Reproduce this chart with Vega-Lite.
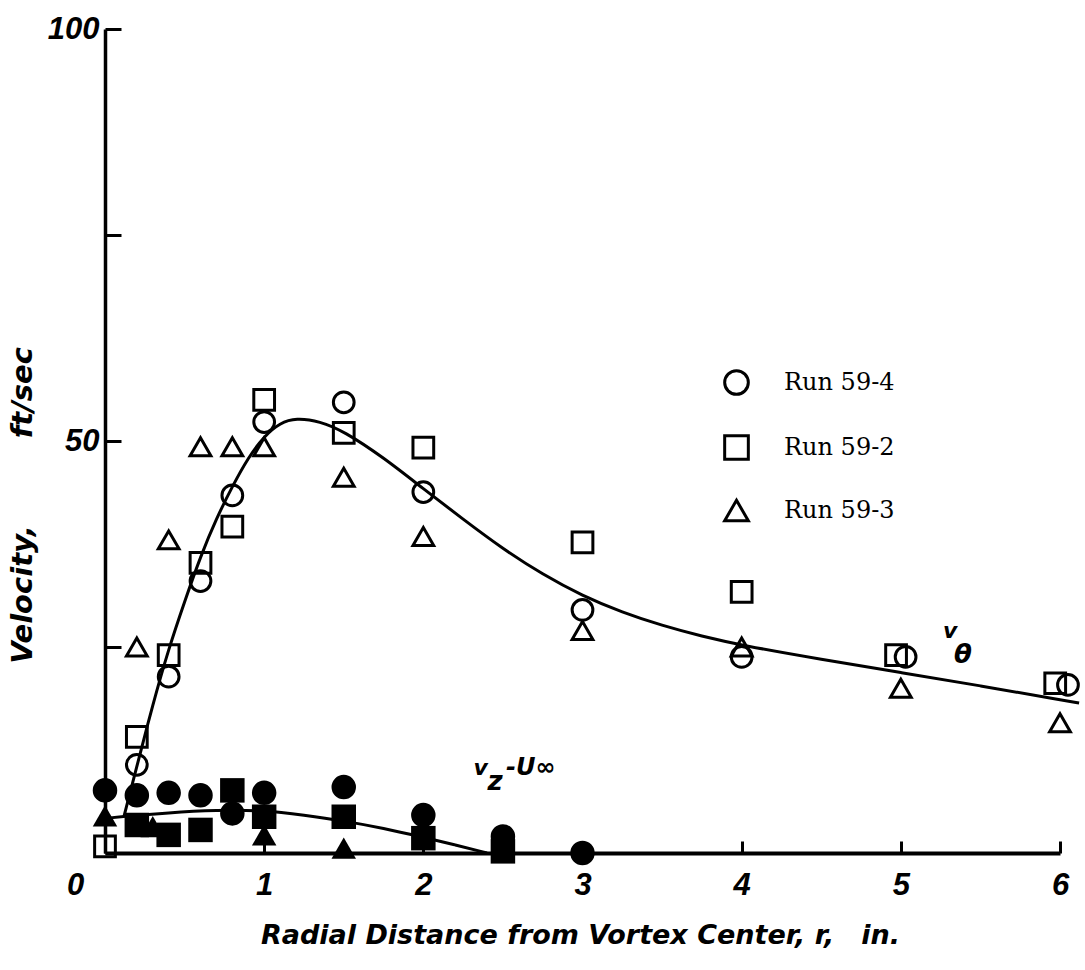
{
  "$schema": "https://vega.github.io/schema/vega-lite/v6.json",
  "width": 955,
  "height": 824,
  "autosize": {"type": "none"},
  "padding": {"left": 105, "top": 29, "right": 25, "bottom": 117},
  "background": "white",
  "config": {"view": {"stroke": null}, "axis": {"grid": false}},
  "datasets": {
    "vtheta": [
      {"r": 0.2, "v": 10.7, "run": "Run 59-4"},
      {"r": 0.4, "v": 21.4, "run": "Run 59-4"},
      {"r": 0.6, "v": 33.0, "run": "Run 59-4"},
      {"r": 0.8, "v": 43.4, "run": "Run 59-4"},
      {"r": 1.0, "v": 52.3, "run": "Run 59-4"},
      {"r": 1.5, "v": 54.7, "run": "Run 59-4"},
      {"r": 2.0, "v": 43.8, "run": "Run 59-4"},
      {"r": 3.0, "v": 29.5, "run": "Run 59-4"},
      {"r": 4.0, "v": 23.8, "run": "Run 59-4"},
      {"r": 5.03, "v": 23.8, "run": "Run 59-4"},
      {"r": 6.05, "v": 20.4, "run": "Run 59-4"},
      {"r": 0.0, "v": 0.8, "run": "Run 59-2"},
      {"r": 0.2, "v": 14.1, "run": "Run 59-2"},
      {"r": 0.4, "v": 24.0, "run": "Run 59-2"},
      {"r": 0.6, "v": 35.2, "run": "Run 59-2"},
      {"r": 0.8, "v": 39.6, "run": "Run 59-2"},
      {"r": 1.0, "v": 55.0, "run": "Run 59-2"},
      {"r": 1.5, "v": 51.0, "run": "Run 59-2"},
      {"r": 2.0, "v": 49.2, "run": "Run 59-2"},
      {"r": 3.0, "v": 37.7, "run": "Run 59-2"},
      {"r": 4.0, "v": 31.7, "run": "Run 59-2"},
      {"r": 4.97, "v": 24.0, "run": "Run 59-2"},
      {"r": 5.97, "v": 20.6, "run": "Run 59-2"},
      {"r": 0.2, "v": 25.0, "run": "Run 59-3"},
      {"r": 0.4, "v": 38.0, "run": "Run 59-3"},
      {"r": 0.6, "v": 49.3, "run": "Run 59-3"},
      {"r": 0.8, "v": 49.3, "run": "Run 59-3"},
      {"r": 1.0, "v": 49.3, "run": "Run 59-3"},
      {"r": 1.5, "v": 45.6, "run": "Run 59-3"},
      {"r": 2.0, "v": 38.4, "run": "Run 59-3"},
      {"r": 3.0, "v": 27.0, "run": "Run 59-3"},
      {"r": 4.0, "v": 25.0, "run": "Run 59-3"},
      {"r": 5.0, "v": 20.0, "run": "Run 59-3"},
      {"r": 6.0, "v": 15.8, "run": "Run 59-3"}
    ],
    "vz": [
      {"r": 0.0, "v": 7.6, "run": "Run 59-4"},
      {"r": 0.2, "v": 7.0, "run": "Run 59-4"},
      {"r": 0.4, "v": 7.3, "run": "Run 59-4"},
      {"r": 0.6, "v": 7.0, "run": "Run 59-4"},
      {"r": 0.8, "v": 4.8, "run": "Run 59-4"},
      {"r": 1.0, "v": 7.3, "run": "Run 59-4"},
      {"r": 1.5, "v": 8.0, "run": "Run 59-4"},
      {"r": 2.0, "v": 4.6, "run": "Run 59-4"},
      {"r": 2.5, "v": 2.0, "run": "Run 59-4"},
      {"r": 3.0, "v": 0.0, "run": "Run 59-4"},
      {"r": 0.2, "v": 3.4, "run": "Run 59-2"},
      {"r": 0.4, "v": 2.2, "run": "Run 59-2"},
      {"r": 0.6, "v": 2.8, "run": "Run 59-2"},
      {"r": 0.8, "v": 7.6, "run": "Run 59-2"},
      {"r": 1.0, "v": 4.4, "run": "Run 59-2"},
      {"r": 1.5, "v": 4.4, "run": "Run 59-2"},
      {"r": 2.0, "v": 1.8, "run": "Run 59-2"},
      {"r": 2.5, "v": 0.2, "run": "Run 59-2"},
      {"r": 0.0, "v": 4.5, "run": "Run 59-3"},
      {"r": 0.3, "v": 3.2, "run": "Run 59-3"},
      {"r": 1.0, "v": 2.2, "run": "Run 59-3"},
      {"r": 1.5, "v": 0.6, "run": "Run 59-3"}
    ],
    "vtheta_fit": [
      {"r": 0.12, "v": 4.5},
      {"r": 0.2, "v": 10.5},
      {"r": 0.3, "v": 18.0},
      {"r": 0.4, "v": 24.8},
      {"r": 0.5, "v": 30.5},
      {"r": 0.6, "v": 36.0},
      {"r": 0.7, "v": 40.6},
      {"r": 0.8, "v": 44.5},
      {"r": 0.9, "v": 48.0},
      {"r": 1.0, "v": 50.6},
      {"r": 1.1, "v": 52.2},
      {"r": 1.2, "v": 52.8},
      {"r": 1.35, "v": 52.4},
      {"r": 1.5, "v": 51.2},
      {"r": 1.75, "v": 48.0},
      {"r": 2.0, "v": 44.2},
      {"r": 2.25, "v": 40.5},
      {"r": 2.5, "v": 36.9},
      {"r": 2.75, "v": 33.8},
      {"r": 3.0, "v": 31.2},
      {"r": 3.25, "v": 29.2},
      {"r": 3.5, "v": 27.6},
      {"r": 3.75, "v": 26.3},
      {"r": 4.0, "v": 25.2},
      {"r": 4.5, "v": 23.5},
      {"r": 5.0, "v": 21.9},
      {"r": 5.5, "v": 20.3},
      {"r": 6.0, "v": 18.6},
      {"r": 6.12, "v": 18.2}
    ],
    "vz_fit": [
      {"r": 0.0, "v": 4.2},
      {"r": 0.1, "v": 4.4},
      {"r": 0.4, "v": 4.9},
      {"r": 0.7, "v": 5.2},
      {"r": 1.0, "v": 5.2},
      {"r": 1.25, "v": 4.6},
      {"r": 1.5, "v": 3.9},
      {"r": 1.75, "v": 3.0},
      {"r": 2.0, "v": 1.9},
      {"r": 2.2, "v": 1.0},
      {"r": 2.4, "v": 0.0}
    ],
    "notes": [
      {"r": 2.36, "v": 10.3, "t": "v"},
      {"r": 5.31, "v": 27.0, "t": "v"}
    ],
    "notes_left": [
      {"r": 2.52, "v": 10.3, "t": "-U∞"}
    ],
    "subs": [
      {"r": 2.45, "v": 8.6, "t": "z"},
      {"r": 5.39, "v": 24.0, "t": "θ"}
    ]
  },
  "layer": [
    {
      "data": {"name": "vtheta_fit"},
      "mark": {"type": "line", "interpolate": "basis", "color": "black", "strokeWidth": 3},
      "encoding": {
        "x": {
          "field": "r", "type": "quantitative",
          "scale": {"domain": [0, 6], "nice": false, "zero": false},
          "axis": {
            "values": [0, 1, 2, 3, 4, 5, 6],
            "format": "d",
            "title": "Radial Distance from Vortex Center, r,\u2003in.",
            "titleFont": "DejaVu Sans", "titleFontSize": 27, "titleFontStyle": "italic", "titleFontWeight": "bold", "titleColor": "black",
            "titleX": 475, "titleY": 82, "titleBaseline": "middle", "titleAlign": "center",
            "labelFont": "Liberation Sans", "labelFontSize": 31, "labelFontStyle": "italic", "labelFontWeight": "bold", "labelColor": "black",
            "labelPadding": 29,
            "labelOffset": {"condition": {"test": "datum.value === 0", "value": -30}, "value": 0},
            "labelFlush": false, "labelOverlap": false,
            "tickSize": -12, "tickWidth": 3, "tickColor": "black",
            "domainColor": "black", "domainWidth": 4, "grid": false
          }
        },
        "y": {
          "field": "v", "type": "quantitative",
          "scale": {"domain": [0, 100], "nice": false},
          "axis": {
            "values": [0, 25, 50, 75, 100],
            "labelExpr": "datum.value === 100 || datum.value === 50 ? datum.label : ''",
            "title": "Velocity,\u2003\u2003\u2003ft/sec",
            "titleFont": "DejaVu Sans", "titleFontSize": 29, "titleFontStyle": "italic", "titleFontWeight": "bold", "titleColor": "black",
            "titleX": -83, "titleY": 476, "titleAngle": 270, "titleAlign": "center", "titleBaseline": "middle",
            "labelFont": "Liberation Sans", "labelFontSize": 31, "labelFontStyle": "italic", "labelFontWeight": "bold", "labelColor": "black",
            "labelPadding": 22, "labelFlush": false, "labelOverlap": false,
            "tickSize": -16, "tickWidth": 3, "tickColor": "black",
            "domainColor": "black", "domainWidth": 3.5, "grid": false
          }
        }
      }
    },
    {
      "data": {"name": "vz_fit"},
      "mark": {"type": "line", "interpolate": "basis", "color": "black", "strokeWidth": 3},
      "encoding": {
        "x": {"field": "r", "type": "quantitative"},
        "y": {"field": "v", "type": "quantitative"}
      }
    },
    {
      "data": {"name": "vtheta"},
      "mark": {"type": "point", "filled": false, "color": "black", "strokeWidth": 3, "size": 430, "opacity": 1},
      "encoding": {
        "x": {"field": "r", "type": "quantitative"},
        "y": {"field": "v", "type": "quantitative"},
        "shape": {
          "field": "run", "type": "nominal",
          "scale": {"domain": ["Run 59-4", "Run 59-2", "Run 59-3"], "range": ["circle", "square", "triangle-up"]},
          "legend": {
            "orient": "none", "legendX": 618, "legendY": 340, "title": null, "padding": 0,
            "symbolSize": 560, "symbolStrokeWidth": 3, "symbolStrokeColor": "black",
            "labelFont": "DejaVu Serif", "labelFontSize": 24, "labelColor": "black",
            "rowPadding": 28, "labelOffset": 34
          }
        }
      }
    },
    {
      "data": {"name": "vz"},
      "mark": {"type": "point", "filled": true, "color": "black", "size": 600, "opacity": 1},
      "encoding": {
        "x": {"field": "r", "type": "quantitative"},
        "y": {"field": "v", "type": "quantitative"},
        "shape": {"field": "run", "type": "nominal", "legend": null}
      }
    },
    {
      "data": {"name": "notes"},
      "mark": {"type": "text", "font": "DejaVu Sans", "fontSize": 22, "fontStyle": "italic", "fontWeight": "bold", "color": "black", "align": "center", "baseline": "middle"},
      "encoding": {
        "x": {"field": "r", "type": "quantitative"},
        "y": {"field": "v", "type": "quantitative"},
        "text": {"field": "t"}
      }
    },
    {
      "data": {"name": "notes_left"},
      "mark": {"type": "text", "font": "DejaVu Sans", "fontSize": 24, "fontStyle": "italic", "fontWeight": "bold", "color": "black", "align": "left", "baseline": "middle"},
      "encoding": {
        "x": {"field": "r", "type": "quantitative"},
        "y": {"field": "v", "type": "quantitative"},
        "text": {"field": "t"}
      }
    },
    {
      "data": {"name": "subs"},
      "mark": {"type": "text", "font": "DejaVu Sans", "fontSize": 26, "fontStyle": "italic", "fontWeight": "bold", "color": "black", "align": "center", "baseline": "middle"},
      "encoding": {
        "x": {"field": "r", "type": "quantitative"},
        "y": {"field": "v", "type": "quantitative"},
        "text": {"field": "t"}
      }
    }
  ]
}
